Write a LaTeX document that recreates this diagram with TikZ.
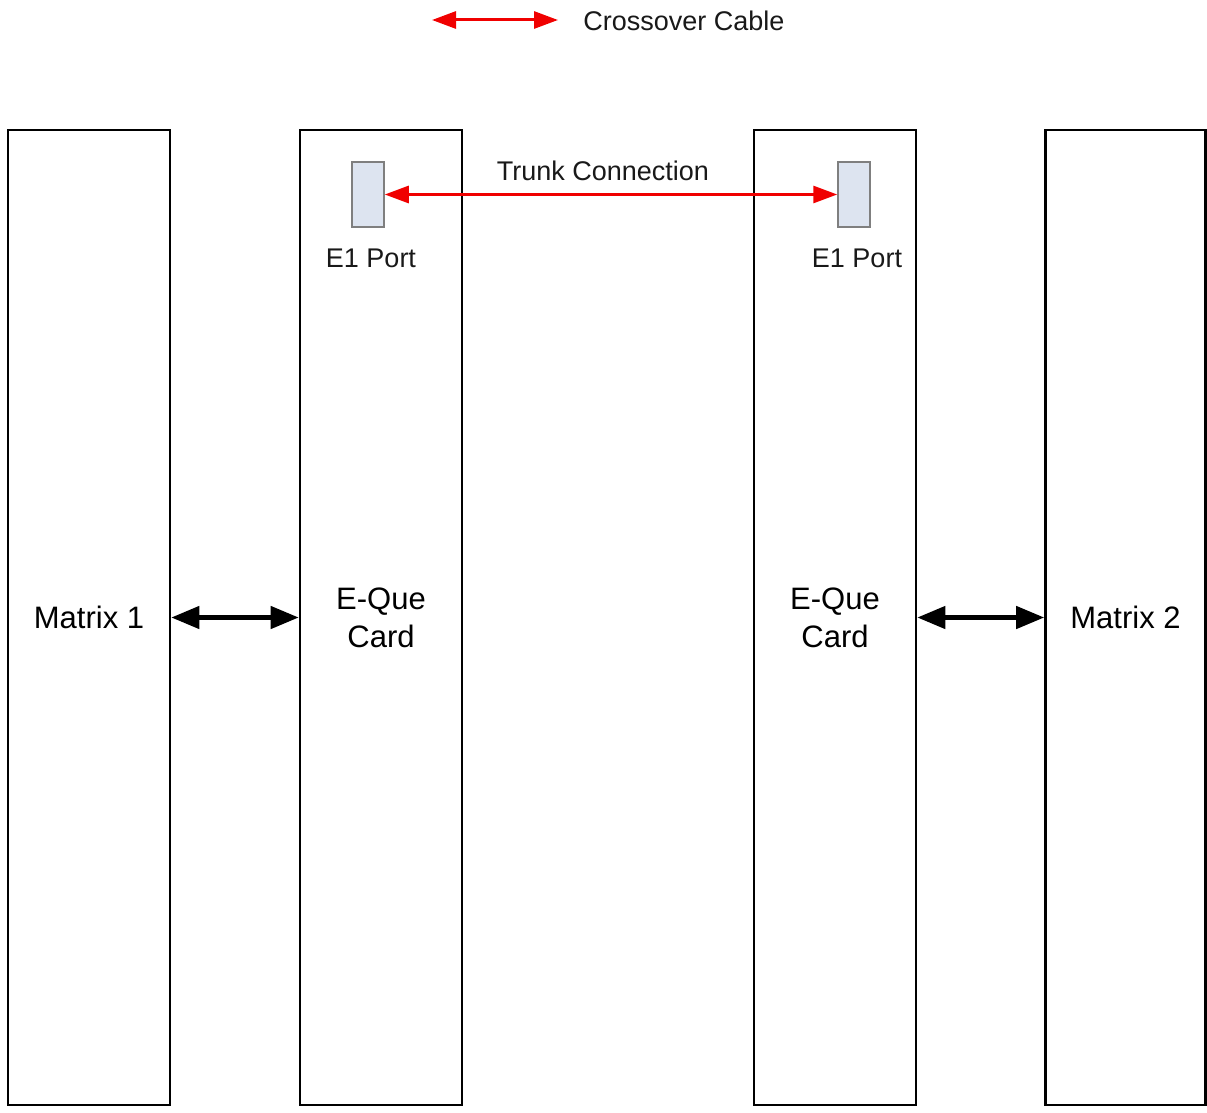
\documentclass[tikz,border=0pt]{standalone}
\usepackage{fontspec}
\setmainfont{Liberation Sans}
\usetikzlibrary{arrows.meta}
\definecolor{portfill}{HTML}{DDE4F0}
\definecolor{portdraw}{HTML}{7F7F7F}
\definecolor{cablered}{HTML}{F00000}
\begin{document}
\begin{tikzpicture}[x=1pt,y=-1pt,
  rack/.style={draw=black,line width=2.6pt,fill=white,inner sep=0pt,minimum width=162pt,minimum height=975pt,align=center,font=\fontsize{31}{38}\selectfont},
  port/.style={draw=portdraw,line width=1.5pt,fill=portfill,inner sep=0pt,minimum width=32pt,minimum height=65pt},
  lbl/.style={inner sep=0pt,font=\fontsize{27}{32}\selectfont,text=black!90},
  redarr/.style={draw=cablered,line width=3pt,{Triangle[length=24pt,width=17pt]}-{Triangle[length=24pt,width=17pt]}},
  blkarr/.style={draw=black,line width=4.5pt,{Triangle[length=28pt,width=22pt]}-{Triangle[length=28pt,width=22pt]}}]
\useasboundingbox (0,0) rectangle (1207,1113);
\fill[white] (0,0) rectangle (1207,1113);
% legend
\coordinate (la) at (432,20);
\coordinate (lb) at (558,20);
\draw[redarr] (la) -- (lb);
\node[lbl] (legend) at (684,21) {Crossover Cable};
% racks
\node[rack] (m1) at (89,617.5) {Matrix 1};
\node[rack] (e1) at (381,617.5) {E-Que\\Card};
\node[rack] (e2) at (835,617.5) {E-Que\\Card};
\node[rack,minimum width=160pt] (m2) at (1125.5,617.5) {Matrix 2};
% ports
\node[port] (p1) at (368,194.5) {};
\node[port] (p2) at (854,194.5) {};
\node[lbl] (p1l) at (371,258) {E1 Port};
\node[lbl] (p2l) at (857,258) {E1 Port};
% connections
\draw[redarr] (p1.east) -- (p2.west);
\node[lbl] (trunk) at (603,171) {Trunk Connection};
\draw[blkarr] (m1.east) -- (e1.west);
\draw[blkarr] (e2.east) -- (m2.west);
\end{tikzpicture}
\end{document}
